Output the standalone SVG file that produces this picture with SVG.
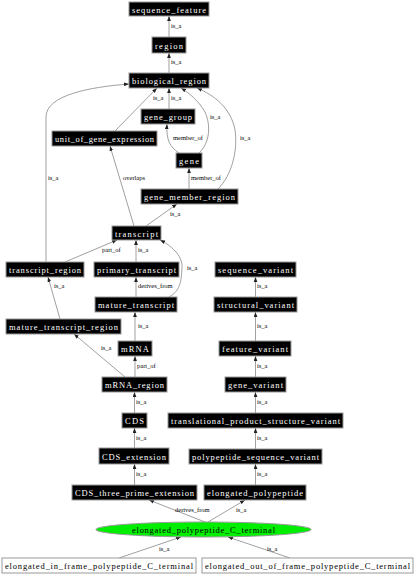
<svg xmlns="http://www.w3.org/2000/svg" width="416" height="576" viewBox="0 0 416 576">
<defs>
<marker id="ah" viewBox="0 0 8 6" markerWidth="5" markerHeight="4" refX="8" refY="3" orient="auto" markerUnits="userSpaceOnUse">
<path d="M0,0 L8,3 L0,6 z" fill="#222"/>
</marker>
<style>
.n rect{fill:#000;stroke:#999;stroke-width:1}
.n text{fill:#fff;font-family:"Liberation Serif","DejaVu Serif",serif;font-size:8.5px;text-anchor:middle}
.w rect{fill:#fff;stroke:#999;stroke-width:1}
.w text{fill:#000;font-family:"Liberation Serif","DejaVu Serif",serif;font-size:8.5px;text-anchor:middle}
.e ellipse{fill:#00ee00;stroke:#999;stroke-width:1}
.e text{fill:#000;font-family:"Liberation Serif","DejaVu Serif",serif;font-size:8.5px;text-anchor:middle}
#edges path{fill:none;stroke:#888;stroke-width:0.8;marker-end:url(#ah)}
#edges text{fill:#000;font-family:"Liberation Serif","DejaVu Serif",serif;font-size:6.5px}
</style>
</defs>
<rect width="416" height="576" fill="#fff"/>
<g id="edges">
<path d="M169,37 L169,16"/><text x="171" y="28">is_a</text>
<path d="M169,73 L169,53"/><text x="171" y="64">is_a</text>
<path d="M169,109 L169,88"/><text x="171" y="100">is_a</text>
<path d="M115,131 L157,88"/><text x="153" y="100">is_a</text>
<path d="M179,153 C170,147 166,140 167,124"/><text x="173" y="140">member_of</text>
<path d="M199,153 C210,143 211,125 205,112 C198,100 189,93 181,88"/><text x="210" y="119">is_a</text>
<path d="M189,189 L189,168"/><text x="191" y="180">member_of</text>
<path d="M218,189 C232,175 238,150 235,130 C231,108 214,95 197,88"/><text x="240" y="140">is_a</text>
<path d="M46,262 L46,117 C46,95 90,87 129,84"/><text x="48" y="180">is_a</text>
<path d="M134,226 L110,146"/><text x="123" y="180">overlaps</text>
<path d="M146,226 L177,204"/><text x="170" y="216">is_a</text>
<path d="M65,262 L117,240"/><text x="102" y="252">part_of</text>
<path d="M136,262 L136,240"/><text x="138" y="252">is_a</text>
<path d="M169,297 C182,290 181,278 182,268 C183,255 170,245 160,240"/><text x="187" y="270">is_a</text>
<path d="M136,297 L136,277"/><text x="138" y="288">derives_from</text>
<path d="M60,319 L48,277"/><text x="54" y="288">is_a</text>
<path d="M135,341 L135,312"/><text x="138" y="328">is_a</text>
<path d="M125,377 L74,334"/><text x="101" y="350">is_a</text>
<path d="M135,377 L135,356"/><text x="137" y="368">part_of</text>
<path d="M134.5,413 L134.5,392"/><text x="136" y="404">is_a</text>
<path d="M134.5,448 L134.5,428"/><text x="136" y="440">is_a</text>
<path d="M134.5,485 L134.5,464"/><text x="136" y="476">is_a</text>
<path d="M255.5,297 L255.5,277"/><text x="257" y="288">is_a</text>
<path d="M255.5,341 L255.5,312"/><text x="257" y="328">is_a</text>
<path d="M255.5,377 L255.5,356"/><text x="257" y="368">is_a</text>
<path d="M255.5,413 L255.5,392"/><text x="257" y="404">is_a</text>
<path d="M255.5,449 L255.5,428"/><text x="257" y="440">is_a</text>
<path d="M255.5,485 L255.5,464"/><text x="257" y="476">is_a</text>
<path d="M205,522 L149,500"/><text x="175" y="512">derives_from</text>
<path d="M208,522 L245,500"/><text x="236" y="512">is_a</text>
<path d="M119,558 L181,537"/><text x="159" y="551">is_a</text>
<path d="M290,558 L228,537"/><text x="267" y="551">is_a</text>
</g>
<g id="sequence_feature" class="n"><rect x="129" y="2" width="80" height="14"/><text x="169" y="12.5" textLength="74">sequence_feature</text></g>
<g id="region" class="n"><rect x="152" y="37" width="34" height="16"/><text x="169" y="48.5" textLength="28">region</text></g>
<g id="biological_region" class="n"><rect x="129" y="73" width="80" height="15"/><text x="169" y="84" textLength="74">biological_region</text></g>
<g id="gene_group" class="n"><rect x="141" y="109" width="54" height="15"/><text x="168" y="120" textLength="48">gene_group</text></g>
<g id="unit_of_gene_expression" class="n"><rect x="52" y="131" width="105" height="15"/><text x="104.5" y="142" textLength="99">unit_of_gene_expression</text></g>
<g id="gene" class="n"><rect x="176" y="153" width="26" height="15"/><text x="189" y="164" textLength="20">gene</text></g>
<g id="gene_member_region" class="n"><rect x="141" y="189" width="97" height="15"/><text x="189.5" y="200" textLength="91">gene_member_region</text></g>
<g id="transcript" class="n"><rect x="112" y="226" width="49" height="14"/><text x="136.5" y="236.5" textLength="43">transcript</text></g>
<g id="transcript_region" class="n"><rect x="6" y="262" width="78" height="15"/><text x="45" y="273" textLength="72">transcript_region</text></g>
<g id="primary_transcript" class="n"><rect x="94" y="262" width="85" height="15"/><text x="136.5" y="273" textLength="79">primary_transcript</text></g>
<g id="mature_transcript" class="n"><rect x="95" y="297" width="82" height="15"/><text x="136" y="308" textLength="76">mature_transcript</text></g>
<g id="mature_transcript_region" class="n"><rect x="6" y="319" width="115" height="15"/><text x="63.5" y="330" textLength="109">mature_transcript_region</text></g>
<g id="mRNA" class="n"><rect x="118" y="341" width="34" height="15"/><text x="135" y="352" textLength="28">mRNA</text></g>
<g id="mRNA_region" class="n"><rect x="102" y="377" width="65" height="15"/><text x="134.5" y="388" textLength="59">mRNA_region</text></g>
<g id="CDS" class="n"><rect x="122" y="413" width="25" height="15"/><text x="134.5" y="424" textLength="19">CDS</text></g>
<g id="CDS_extension" class="n"><rect x="99" y="448" width="70" height="16"/><text x="134" y="459.5" textLength="64">CDS_extension</text></g>
<g id="CDS_three_prime_extension" class="n"><rect x="72" y="485" width="125" height="15"/><text x="134.5" y="496" textLength="119">CDS_three_prime_extension</text></g>
<g id="sequence_variant" class="n"><rect x="215" y="262" width="81" height="15"/><text x="255.5" y="273" textLength="75">sequence_variant</text></g>
<g id="structural_variant" class="n"><rect x="214" y="297" width="83" height="15"/><text x="255.5" y="308" textLength="77">structural_variant</text></g>
<g id="feature_variant" class="n"><rect x="219" y="341" width="72" height="15"/><text x="255" y="352" textLength="66">feature_variant</text></g>
<g id="gene_variant" class="n"><rect x="225" y="377" width="61" height="15"/><text x="255.5" y="388" textLength="55">gene_variant</text></g>
<g id="translational_product_structure_variant" class="n"><rect x="168" y="413" width="175" height="15"/><text x="255.5" y="424" textLength="169">translational_product_structure_variant</text></g>
<g id="polypeptide_sequence_variant" class="n"><rect x="189" y="449" width="133" height="15"/><text x="255.5" y="460" textLength="127">polypeptide_sequence_variant</text></g>
<g id="elongated_polypeptide" class="n"><rect x="204" y="485" width="102" height="15"/><text x="255" y="496" textLength="96">elongated_polypeptide</text></g>
<g id="elongated_polypeptide_C_terminal" class="e"><ellipse cx="203.5" cy="529.5" rx="107.5" ry="7.5"/><text x="203.5" y="532.5" textLength="143">elongated_polypeptide_C_terminal</text></g>
<g id="elongated_in_frame_polypeptide_C_terminal" class="w"><rect x="2" y="558" width="194" height="15"/><text x="99" y="569" textLength="188">elongated_in_frame_polypeptide_C_terminal</text></g>
<g id="elongated_out_of_frame_polypeptide_C_terminal" class="w"><rect x="202" y="558" width="211" height="15"/><text x="307.5" y="569" textLength="205">elongated_out_of_frame_polypeptide_C_terminal</text></g>
</svg>
